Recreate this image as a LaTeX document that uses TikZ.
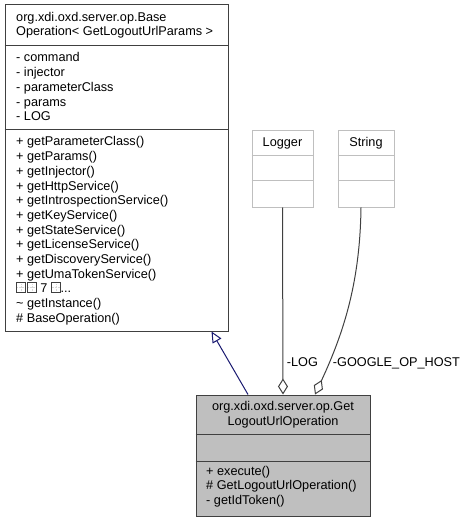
\documentclass[tikz,border=0pt]{standalone}
\usepackage{fontspec}
\setmainfont{Liberation Sans}
\usepackage{xcolor}
\usepackage{tikz}
\usetikzlibrary{arrows.meta,calc}

\definecolor{edgegrey}{HTML}{404040}
\definecolor{libgrey}{HTML}{BFBFBF}
\definecolor{derivedfill}{HTML}{BFBFBF}
\definecolor{inheritblue}{HTML}{191970}

\newcommand{\tofu}{\tikz[baseline=0pt]{%
  \draw[libgrey!60, line width=0.5pt, densely dotted] (4.5pt,0.5pt) -- (4.5pt,9.5pt) (0.5pt,5pt) -- (8.5pt,5pt);
  \draw[edgegrey, line width=0.6pt] (0pt,0pt) rectangle (9pt,10pt);}}
\newcommand{\morerow}{\tofu\hspace{1.5pt}\tofu\ 7 \tofu...}

\begin{document}
\begin{tikzpicture}[x=1pt, y=-1pt, font=\fontsize{12.7}{14.67}\selectfont,
  classbox/.style={draw=edgegrey, line width=1pt, inner sep=0pt},
  libbox/.style={draw=libgrey, line width=1pt, inner sep=0pt},
  member/.style={anchor=base west, inner sep=0pt},
  title/.style={anchor=base, inner sep=0pt},
  inherit/.style={draw=inheritblue, line width=1pt, -{Triangle[open, length=11pt, width=10pt]}},
  aggr/.style={draw=edgegrey, line width=1pt, {Diamond[open, length=16pt, width=10pt]}-}]
  \useasboundingbox (0,0) rectangle (467,521);

  % Classes
  \node[classbox, minimum width=223pt, minimum height=326pt] (base) at (116.5,168) {};
  \node[libbox, minimum width=61pt, minimum height=76pt] (logger) at (282.5,169) {};
  \node[libbox, minimum width=56pt, minimum height=76pt] (string) at (366,169) {};
  \node[classbox, fill=derivedfill, minimum width=174pt, minimum height=121pt] (derived) at (283,455.5) {};

  % Compartments
  \draw[edgegrey, line width=1pt] (base.west |- 0,46) -- (base.east |- 0,46);
  \draw[edgegrey, line width=1pt] (base.west |- 0,130) -- (base.east |- 0,130);
  \foreach \y in {156,181} \draw[libgrey, line width=1pt] (logger.west |- 0,\y) -- (logger.east |- 0,\y);
  \foreach \y in {156,181} \draw[libgrey, line width=1pt] (string.west |- 0,\y) -- (string.east |- 0,\y);
  \draw[edgegrey, line width=1pt] (derived.west |- 0,434) -- (derived.east |- 0,434);
  \draw[edgegrey, line width=1pt] (derived.west |- 0,461) -- (derived.east |- 0,461);

  % Titles
  \node[member] (basename1) at (16,21.3) {org.xdi.oxd.server.op.Base};
  \node[member] (basename2) at (16,36) {Operation< GetLogoutUrlParams >};
  \node[title] (loggername) at (282.5,146.7) {Logger};
  \node[title] (stringname) at (366,146.7) {String};
  \node[title] (derivedname1) at (283,410.7) {org.xdi.oxd.server.op.Get};
  \node[title] (derivedname2) at (283,425.3) {LogoutUrlOperation};

  % Members
  \foreach \m [count=\i from 0] in {- command, - injector, - parameterClass, - params, - LOG}
    \node[member] (basefield\i) at (16,62+14.67*\i) {\m};
  \foreach \m [count=\i from 0] in {+ getParameterClass(), + getParams(), + getInjector(),
      + getHttpService(), + getIntrospectionService(), + getKeyService(), + getStateService(),
      + getLicenseService(), + getDiscoveryService(), + getUmaTokenService(),
      \morerow, \textasciitilde\ getInstance(), \#\ BaseOperation()}
    \node[member] (basemethod\i) at (16,146+14.67*\i) {\m};
  \foreach \m [count=\i from 0] in {+ execute(), \#\ GetLogoutUrlOperation(), - getIdToken()}
    \node[member] (derivedmethod\i) at (206,475+14.67*\i) {\m};

  % Relations
  \draw[inherit] ([xshift=-35pt]derived.north) -- ([xshift=95pt]base.south);
  \draw[aggr] (derived.north) -- (logger.south);
  \draw[aggr] ([xshift=32pt]derived.north) .. controls (345,330) and (360,280) .. ([xshift=-5pt]string.south);
  \node[member] (loglabel) at (286.7,366.7) {-LOG};
  \node[member] (hostlabel) at (332.7,366.7) {-GOOGLE\_OP\_HOST};
\end{tikzpicture}
\end{document}
